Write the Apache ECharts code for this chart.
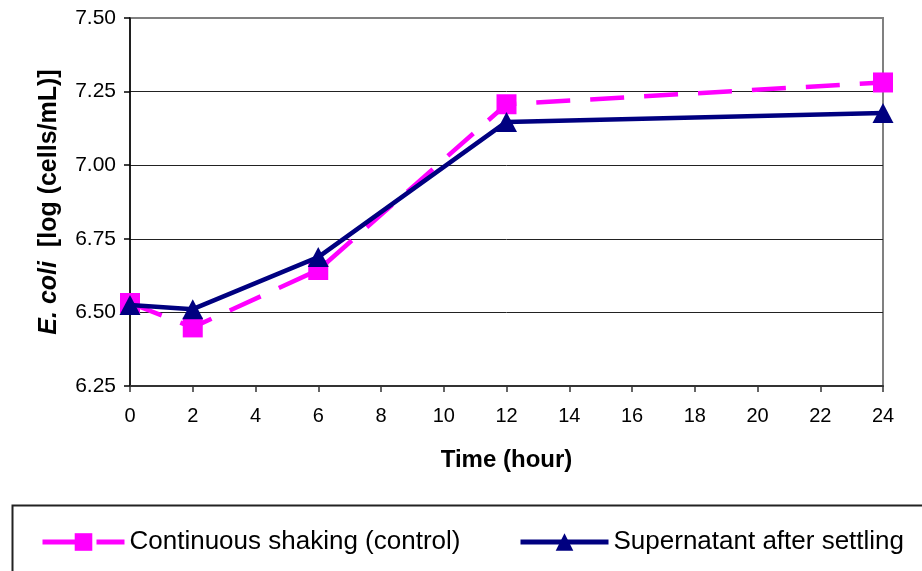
<!DOCTYPE html>
<html>
<head>
<meta charset="utf-8">
<script src="https://cdn.jsdelivr.net/npm/echarts@6/dist/echarts.min.js"></script>
<style>
  html, body { margin: 0; padding: 0; background: #fff; }
  #chart { width: 922px; height: 571px; }
</style>
</head>
<body>
<div id="chart"></div>
<script>
// Sampling times (hours)
const hours = [0, 2, 6, 12, 24];
// E. coli counts, log(cells/mL)
const shakingValues = [6.532, 6.449, 6.644, 7.207, 7.281];
const supernatantValues = [6.525, 6.511, 6.688, 7.147, 7.177];
const seriesNames = ['Continuous shaking (control)', 'Supernatant after settling'];
const yTicks = { min: 6.25, max: 7.5, step: 0.25 };
const xTicks = { min: 0, max: 24, step: 2 };

const FONT = "'Liberation Sans', Arial, sans-serif";

const pairs = (xs, ys) => xs.map((x, i) => [x, ys[i]]);

const chart = echarts.init(document.getElementById('chart'), null, { renderer: 'canvas' });

chart.setOption({
  backgroundColor: '#ffffff',
  animation: false,
  grid: {
    left: 130, right: 39, top: 18, bottom: 185,
    containLabel: false,
    outerBoundsMode: 'none',
    show: true,
    borderColor: '#808080',
    borderWidth: 2
  },
  xAxis: {
    type: 'value',
    min: xTicks.min, max: xTicks.max, interval: xTicks.step,
    name: 'Time (hour)',
    nameLocation: 'middle',
    nameGap: 62,
    nameTextStyle: { fontFamily: FONT, fontSize: 24, fontWeight: 'bold', color: '#000' },
    axisLine: { show: true, onZero: false, lineStyle: { color: '#333', width: 2 } },
    axisTick: { show: true, inside: false, length: 6, lineStyle: { color: '#333', width: 1.5 } },
    axisLabel: { fontFamily: FONT, fontSize: 20, color: '#000', margin: 20 },
    splitLine: { show: false }
  },
  yAxis: {
    type: 'value',
    min: yTicks.min, max: yTicks.max, interval: yTicks.step,
    name: '{i|E. coli}  {b|[log (cells/mL)]}',
    nameLocation: 'middle',
    nameRotate: 90,
    nameGap: 68,
    nameTextStyle: {
      fontFamily: FONT, fontSize: 25, fontWeight: 'bold', color: '#000',
      rich: {
        i: { fontFamily: FONT, fontSize: 25, fontWeight: 'bold', fontStyle: 'italic', color: '#000' },
        b: { fontFamily: FONT, fontSize: 25, fontWeight: 'bold', color: '#000' }
      }
    },
    axisLine: { show: true, onZero: false, lineStyle: { color: '#000', width: 1.5 } },
    axisTick: { show: true, inside: false, length: 6, lineStyle: { color: '#000', width: 1.5 } },
    axisLabel: {
      fontFamily: FONT, fontSize: 21, color: '#000', margin: 14,
      formatter: v => v.toFixed(2)
    },
    splitLine: { show: true, showMaxLine: false, lineStyle: { color: '#222', width: 1 } }
  },
  legend: [
    {
      data: [seriesNames[0]],
      left: 40, top: 529, padding: 0,
      itemWidth: 82, itemHeight: 22,
      lineStyle: { width: 5 },
      textStyle: { fontFamily: FONT, fontSize: 26, color: '#000' }
    },
    {
      data: [seriesNames[1]],
      left: 518, top: 529, padding: 0,
      itemWidth: 88, itemHeight: 22,
      lineStyle: { width: 5 },
      textStyle: { fontFamily: FONT, fontSize: 26, color: '#000' }
    }
  ],
  graphic: [
    {
      type: 'rect',
      left: 10, top: 503,
      shape: { width: 940, height: 120 },
      style: { fill: 'none', stroke: '#222', lineWidth: 2 },
      silent: true
    }
  ],
  series: [
    {
      name: seriesNames[0],
      type: 'line',
      data: pairs(hours, shakingValues),
      symbol: 'rect',
      symbolSize: 20,
      itemStyle: { color: '#FF00FF' },
      lineStyle: { color: '#FF00FF', width: 4.5, type: [34, 20] },
      z: 2
    },
    {
      name: seriesNames[1],
      type: 'line',
      data: pairs(hours, supernatantValues),
      symbol: 'triangle',
      symbolSize: [21, 20],
      itemStyle: { color: '#000080' },
      lineStyle: { color: '#000080', width: 4.5 },
      z: 3
    }
  ]
});
</script>
</body>
</html>
